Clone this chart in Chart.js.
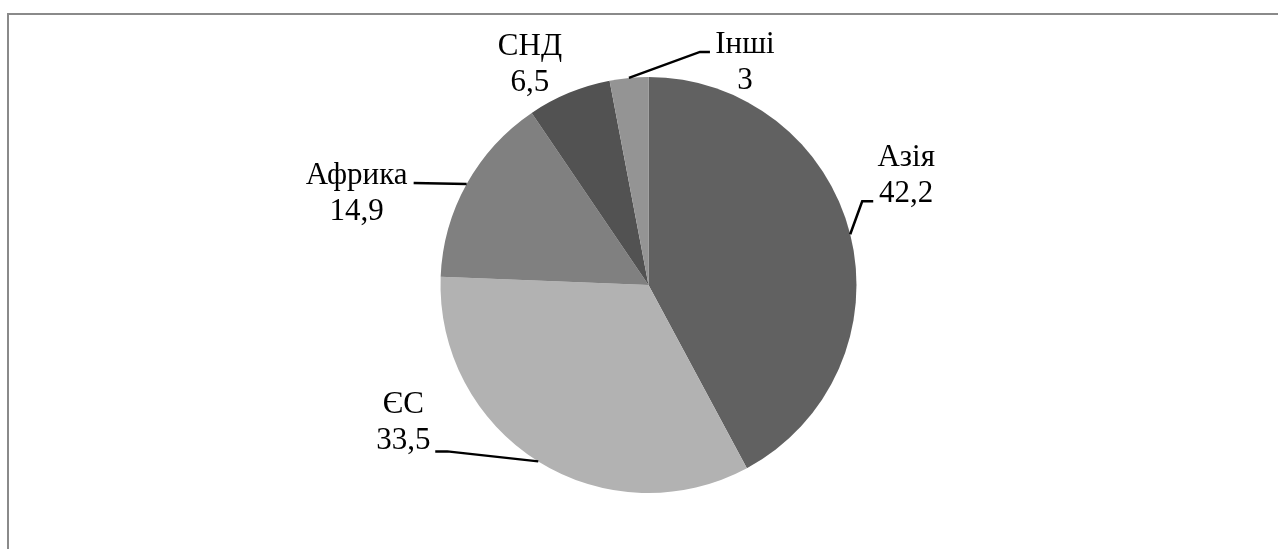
<!DOCTYPE html>
<html>
<head>
<meta charset="utf-8">
<script src="https://cdn.jsdelivr.net/npm/chart.js@4/dist/chart.umd.min.js"></script>
<style>
  html, body { margin: 0; padding: 0; background: #fff; }
  #wrap { width: 1278px; height: 549px; position: relative; }
</style>
</head>
<body>
<div id="wrap"><canvas id="myChart"></canvas></div>
<script>
// regions and their shares, %
const regions = ["Азія", "ЄС", "Африка", "СНД", "Інші"];
const shares = [42.2, 33.5, 14.9, 6.5, 3];
const valueLabels = ["42,2", "33,5", "14,9", "6,5", "3"];

const sliceColors = ["#616161", "#b2b2b2", "#808080", "#525252", "#949494"];

// where each label sits relative to the outer midpoint of its slice (px)
const labelPlacement = [
  { text: [56, -68], leader: [[12, -33], [23, -33]] },
  { text: [-135, -48], leader: [[-91, -10], [-103, -10]] },
  { text: [-110, 0], leader: [[-53, -1]] },
  { text: [-39, -38], leader: [] },
  { text: [116, -25], leader: [[71, -26], [81, -26]] }
];

const labelPlugin = {
  id: "pieLabels",
  beforeDraw(chart) {
    // frame like the original picture: top and left edge only
    const ctx = chart.ctx;
    ctx.save();
    ctx.strokeStyle = "#8a8a8a";
    ctx.lineWidth = 2;
    ctx.beginPath();
    ctx.moveTo(8, 549);
    ctx.lineTo(8, 14);
    ctx.lineTo(1278, 14);
    ctx.stroke();
    ctx.restore();
  },
  afterDatasetsDraw(chart) {
    const ctx = chart.ctx;
    const meta = chart.getDatasetMeta(0);
    ctx.save();
    ctx.font = "31px 'Liberation Serif', 'Times New Roman', serif";
    ctx.fillStyle = "#000";
    ctx.strokeStyle = "#000";
    ctx.lineWidth = 2.5;
    ctx.textAlign = "center";
    ctx.textBaseline = "alphabetic";
    meta.data.forEach((arc, i) => {
      const p = arc.getProps(["x", "y", "startAngle", "endAngle", "outerRadius"], true);
      const mid = (p.startAngle + p.endAngle) / 2;
      const ex = p.x + Math.cos(mid) * p.outerRadius;
      const ey = p.y + Math.sin(mid) * p.outerRadius;
      const place = labelPlacement[i];
      if (place.leader.length) {
        ctx.beginPath();
        ctx.moveTo(ex, ey);
        place.leader.forEach(pt => ctx.lineTo(ex + pt[0], ey + pt[1]));
        ctx.stroke();
      }
      const tx = ex + place.text[0];
      const ty = ey + place.text[1];
      ctx.fillText(regions[i], tx, ty);
      ctx.fillText(valueLabels[i], tx, ty + 36);
    });
    ctx.restore();
  }
};

const ctx = document.getElementById("myChart").getContext("2d");
let myChart = new Chart(ctx, {
  type: "pie",
  data: {
    labels: regions,
    datasets: [
      {
        data: shares,
        backgroundColor: sliceColors,
        borderWidth: 0
      }
    ]
  },
  options: {
    responsive: true,
    maintainAspectRatio: false,
    animation: false,
    layout: {
      padding: { top: 77, bottom: 56, left: 19, right: 0 }
    },
    plugins: {
      legend: { display: false },
      tooltip: { enabled: false }
    }
  },
  plugins: [labelPlugin]
});
</script>
</body>
</html>
